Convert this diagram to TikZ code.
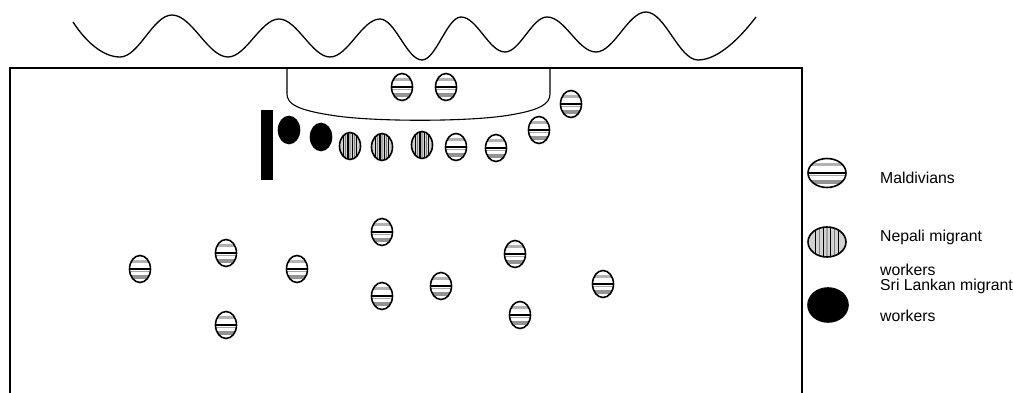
\documentclass[tikz,border=0pt]{standalone}
\usepackage{fontspec}
\setmainfont{Liberation Sans}
\usetikzlibrary{shapes.geometric,calc}

\tikzset{
  person/.style={ellipse, draw, line width=1.6pt, inner sep=0pt,
    minimum width=21pt, minimum height=27pt},
  % horizontal stripes
  maldivian/.style={person, fill=white, path picture={
    \foreach \a/\b/\c in {0.15/0.26/gray!60, 0.45/0.54/black, 0.57/0.62/gray!70, 0.74/0.88/gray!85}{
      \fill[\c] ($(path picture bounding box.north west)!\a!(path picture bounding box.south west)$)
        rectangle ($(path picture bounding box.north east)!\b!(path picture bounding box.south east)$);}
  }},
  % vertical stripes
  nepali/.style={person, fill=gray!35, path picture={
    \foreach \f/\c in {0.2/black,0.3/gray,0.4/black,0.5/gray!70,0.6/black,0.7/gray,0.8/black}{
      \draw[\c, line width=1.2pt]
        ($(path picture bounding box.north west)!\f!(path picture bounding box.north east)$) --
        ($(path picture bounding box.south west)!\f!(path picture bounding box.south east)$);}
  }},
  srilankan/.style={person, fill=black},
  legendtext/.style={anchor=west, inner sep=0pt, font=\fontsize{15.8}{18}\selectfont},
  outline/.style={line width=1.3pt},
}

\begin{document}
\begin{tikzpicture}[x=1pt, y=-1pt]
\useasboundingbox (0,0) rectangle (1013,393);

% sea
\draw[line width=1.3pt] (73,22)
  .. controls (88,45) and (105,57) .. (120,57)
  .. controls (139,57) and (153,15) .. (172,15)
  .. controls (192,15) and (208,57) .. (228,57)
  .. controls (246,57) and (261,19) .. (279,19)
  .. controls (297,19) and (312,57) .. (330,57)
  .. controls (348,57) and (362,19) .. (380,19)
  .. controls (395,19) and (407,60) .. (422,60)
  .. controls (436,60) and (447,17) .. (461,17)
  .. controls (477,17) and (489,52) .. (505,52)
  .. controls (520,52) and (532,17) .. (547,17)
  .. controls (565,17) and (578,52) .. (596,52)
  .. controls (614,52) and (628,12) .. (646,12)
  .. controls (665,12) and (679,60) .. (698,60)
  .. controls (718,60) and (740,38) .. (756,17);

% room
\draw[outline] (10,393) -- (10,68) -- (802,68) -- (802,393);

% counter
\draw[line width=1.1pt] (287,68) -- (287,94)
  .. controls (287,104) and (298,110) .. (330,115)
  .. controls (370,122) and (470,122) .. (510,115)
  .. controls (540,110) and (550,104) .. (550,94) -- (550,68);

% wall
\node (bar) [fill=black, inner sep=0pt, minimum width=12pt, minimum height=70pt] at (267,145.5) {};

% queue
\node[srilankan] (s1) at (289,130) {};
\node[srilankan] (s2) at (321,137) {};
\node[nepali] (n1) at (350,146) {};
\node[nepali] (n2) at (382,147) {};
\node[nepali] (n3) at (422,145) {};
\node[maldivian] (q1) at (456,147) {};
\node[maldivian] (q2) at (496,148) {};
\node[maldivian] (q3) at (539,130) {};
\node[maldivian] (q4) at (571,104) {};

% behind the counter
\node[maldivian] (c1) at (402,87) {};
\node[maldivian] (c2) at (446,87) {};

% around the room
\node[maldivian] (m1) at (140,269) {};
\node[maldivian] (m2) at (226,253) {};
\node[maldivian] (m3) at (297,269) {};
\node[maldivian] (m4) at (226,325) {};
\node[maldivian] (m5) at (382,232) {};
\node[maldivian] (m6) at (382,296) {};
\node[maldivian] (m7) at (441,286) {};
\node[maldivian] (m8) at (515,254) {};
\node[maldivian] (m9) at (520,315) {};
\node[maldivian] (m10) at (603,284) {};

% legend
\node[maldivian, minimum width=38pt, minimum height=29pt] (lm) at (827,173) {};
\node[nepali, minimum width=38pt, minimum height=30pt] (ln) at (827,242) {};
\node[srilankan, minimum width=40pt, minimum height=34pt] (ls) at (828,305) {};
\node[legendtext] (tm) at (880,178) {Maldivians};
\node[legendtext] (tn1) at (880,237) {Nepali migrant};
\node[legendtext] (tn2) at (880,270) {workers};
\node[legendtext] (ts1) at (880,286) {Sri Lankan migrant};
\node[legendtext] (ts2) at (880,316) {workers};
\end{tikzpicture}
\end{document}
